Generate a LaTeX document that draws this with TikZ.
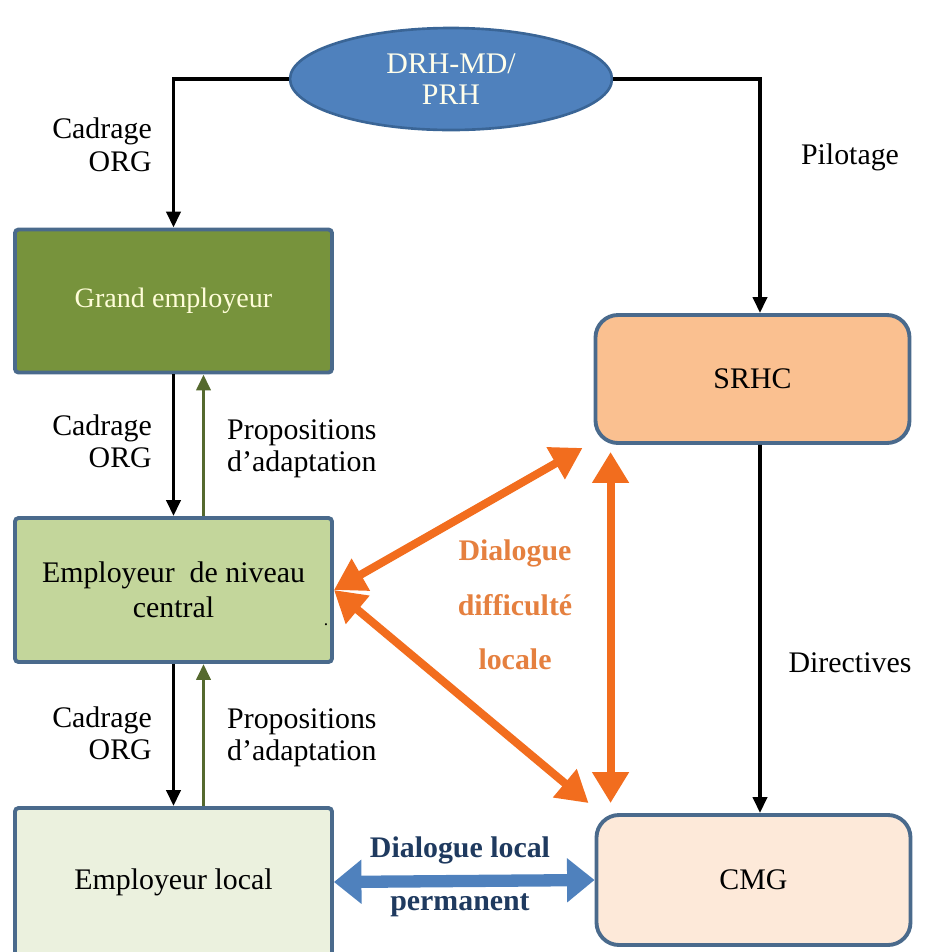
\documentclass[tikz,border=0pt]{standalone}
\usepackage{fontspec}
\setmainfont{Liberation Serif}
\usepackage{tikz}
\usetikzlibrary{shapes.geometric,arrows.meta}

\definecolor{bordbleu}{HTML}{4A6A8C}
\definecolor{ellbleu}{HTML}{4F81BD}
\definecolor{ellbord}{HTML}{3A6596}
\definecolor{vertfonce}{HTML}{77933C}
\definecolor{vertmoyen}{HTML}{C3D69B}
\definecolor{vertclair}{HTML}{EBF1DE}
\definecolor{saumon}{HTML}{FAC090}
\definecolor{saumonclair}{HTML}{FDE9D9}
\definecolor{orangevif}{HTML}{F26D1E}
\definecolor{orangetxt}{HTML}{E5803F}
\definecolor{flecheverte}{HTML}{55692E}
\definecolor{bleunuit}{HTML}{1F3A5F}

\begin{document}
\begin{tikzpicture}[font=\fontsize{17}{20}\selectfont]
    % Styles des blocs et des fleches
    \tikzset{
        bloc/.style={
            draw=bordbleu, rectangle, rounded corners=2pt, line width=2.2pt, minimum width=6.34cm, minimum height=2.86cm, align=center
        },
        bloccoin/.style={
            draw=bordbleu, rectangle, rounded corners=0.45cm, line width=2.2pt, minimum width=6.28cm, minimum height=2.56cm, align=center
        },
        etiquette/.style={align=center},
        noire/.style={line width=2.1pt, -{Triangle[length=0.32cm, width=0.28cm]}},
        verte/.style={line width=2.1pt, draw=flecheverte, -{Triangle[length=0.32cm, width=0.28cm]}},
        orangee/.style={line width=4.6pt, draw=orangevif, {Triangle[length=0.62cm, width=0.7cm]}-{Triangle[length=0.62cm, width=0.7cm]}},
        bleue/.style={line width=7pt, draw=ellbleu, {Triangle[length=0.55cm, width=0.85cm]}-{Triangle[length=0.55cm, width=0.85cm]}}
    }
    \useasboundingbox (0,0) rectangle (18.54,-19.04);

    % Blocs principaux
    \node[ellipse, draw=ellbord, line width=1.5pt, fill=ellbleu, text=white!92!yellow, minimum width=6.44cm, minimum height=2.04cm, align=center] (drh) at (9.02,-1.58) {DRH-MD/\\[-2pt]PRH};
    \node[bloc, fill=vertfonce, text=white!85!yellow, font=\fontsize{16}{19}\selectfont] (grand) at (3.47,-6.02) {Grand employeur};
    \node[bloc, fill=vertmoyen, minimum height=2.88cm] (central) at (3.47,-11.8) {Employeur\ \ de niveau\\central};
    \node[bloc, fill=vertclair, minimum height=2.96cm] (local) at (3.47,-17.64) {Employeur local};
    \node[bloccoin, fill=saumon] (srhc) at (15.05,-7.58) {SRHC};
    \node[bloccoin, fill=saumonclair, minimum height=2.6cm] (cmg) at (15.07,-17.6) {CMG};
    \node[font=\normalsize] (point) at (6.52,-12.5) {.};

    % Liaisons verticales
    \draw[noire] (drh.west) -| (grand.north);
    \draw[noire] (drh.east) -| ([xshift=0.15cm]srhc.north);
    \draw[noire] (grand.south) -- (central.north);
    \draw[verte] ([xshift=0.6cm]central.north) -- ([xshift=0.6cm]grand.south);
    \draw[noire] (central.south) -- (local.north);
    \draw[verte] ([xshift=0.6cm]local.north) -- ([xshift=0.6cm]central.south);
    \draw[noire] ([xshift=0.15cm]srhc.south) -- ([xshift=0.13cm]cmg.north);

    % Dialogues
    \coordinate (hautv) at ([xshift=0.34cm,yshift=-0.14cm]srhc.south west);
    \coordinate (basv) at ([yshift=0.2cm]hautv |- cmg.north);
    \draw[orangee] (central.east) -- ([xshift=-0.22cm,yshift=-0.06cm]srhc.south west);
    \draw[orangee] (central.east) -- ([xshift=-0.12cm,yshift=0.2cm]cmg.north west);
    \draw[orangee] (hautv) -- (basv);
    \draw[bleue] (local.east) -- (cmg.west);

    % Etiquettes
    \node[etiquette, anchor=east, align=right] (cadrage1) at (3.16,-2.9) {Cadrage\\[-1pt]ORG};
    \node[etiquette] (pilotage) at (17.0,-3.14) {Pilotage};
    \node[etiquette, anchor=east, align=right] (cadrage2) at (3.16,-8.82) {Cadrage\\[-2pt]ORG};
    \node[etiquette, anchor=west, align=left] (propos1) at (4.42,-8.98) {Propositions\\[-2pt]d'adaptation};
    \node[etiquette, anchor=east, align=right] (cadrage3) at (3.16,-14.66) {Cadrage\\[-2pt]ORG};
    \node[etiquette, anchor=west, align=left] (propos2) at (4.42,-14.76) {Propositions\\[-2pt]d'adaptation};
    \node[etiquette] (directives) at (17.0,-13.26) {Directives};
    \node[etiquette, text=orangetxt, font=\fontsize{17}{31}\selectfont\bfseries] (difficulte) at (10.3,-12.1) {Dialogue\\difficulté\\locale};
    \node[etiquette, text=bleunuit, font=\fontsize{17}{20}\selectfont\bfseries] (dialoc) at (9.2,-17.0) {Dialogue local};
    \node[etiquette, text=bleunuit, font=\fontsize{17}{20}\selectfont\bfseries] (perman) at (9.2,-18.1) {permanent};
\end{tikzpicture}
\end{document}
